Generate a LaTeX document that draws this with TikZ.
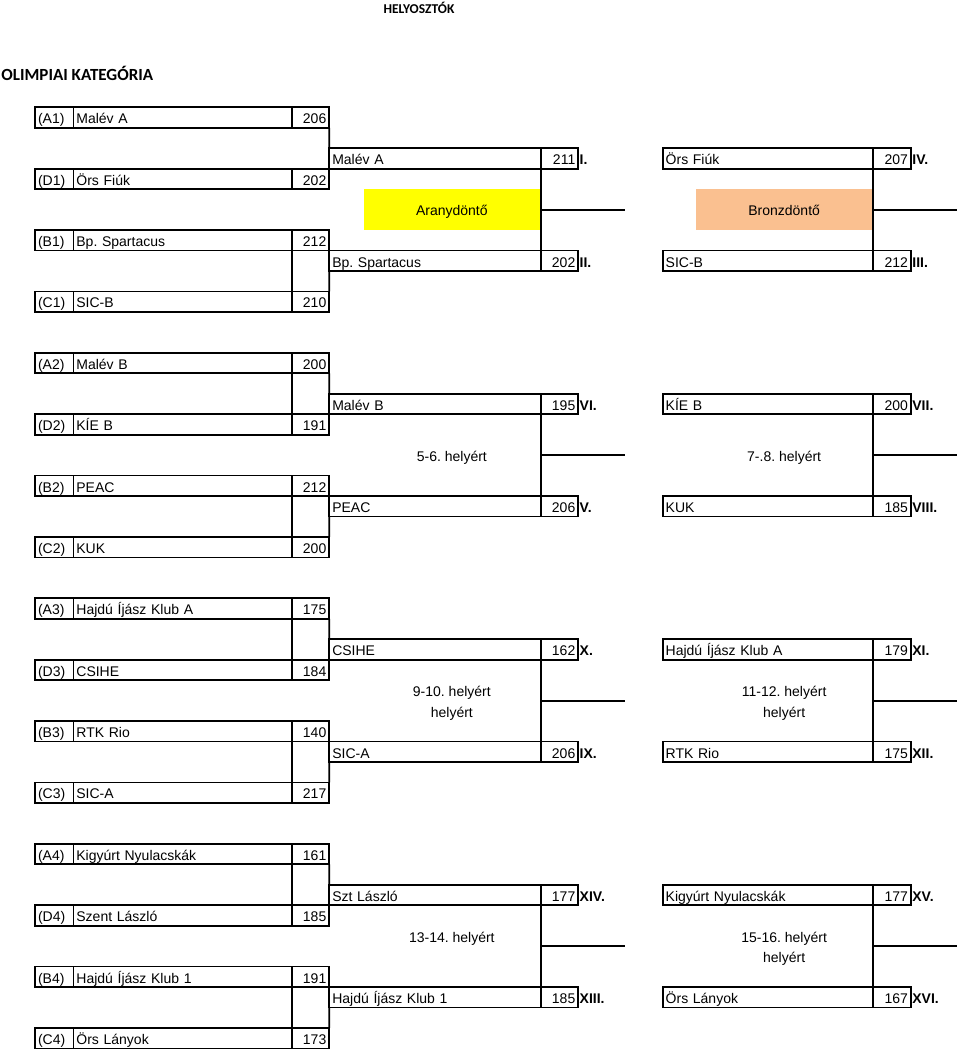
\documentclass[tikz,border=0pt]{standalone}
\usepackage{fontspec}
\setmainfont{Liberation Sans}
\newfontfamily\titlefont{Carlito}
\usetikzlibrary{positioning}
\frenchspacing

\definecolor{goldfill}{RGB}{255,255,0}
\definecolor{bronzefill}{RGB}{250,192,144}

\tikzset{
  cell/.style={draw, line width=1.8pt, outer sep=0pt, inner xsep=3pt, inner ysep=0pt,
    minimum height=20.46pt, anchor=north west, text height=12.6pt, text depth=0pt},
  seedcell/.style={cell, text width=32.4pt, align=left},
  namecell/.style={cell, text width=#1, align=left},
  ptcell/.style={cell, text width=#1, align=right},
  rank/.style={inner sep=0pt, outer sep=0pt, font=\fontsize{14}{16}\selectfont\bfseries,
    text height=12.6pt, text depth=0pt},
  note/.style={inner sep=0pt, outer sep=0pt, minimum width=176.5pt, minimum height=20.46pt,
    text height=12.6pt, text depth=0pt},
  medal/.style={note, minimum height=40.92pt},
  wire/.style={line width=1.8pt},
}

\def\rowh{20.46}

% seed row: id, y, seed, team, points
\newcommand{\seedrow}[5]{%
  \node[seedcell] (#1s) at (35,#2) {#3};
  \node[namecell=212.3pt] (#1t) at (#1s.north east) {#4};
  \node[ptcell=31.6pt] (#1p) at (#1t.north east) {#5};
}
% result row: id, x, y, name width, points width, team, points, rank
\newcommand{\finalrow}[8]{%
  \node[namecell=#4] (#1t) at (#2,#3) {#6};
  \node[ptcell=#5] (#1p) at (#1t.north east) {#7};
  \node[rank, right=1.4pt of #1p] (#1r) {#8};
}
\newcommand{\winrow}[5]{\finalrow{#1}{329.3}{#2}{205.7pt}{31.3pt}{#3}{#4}{#5}}
\newcommand{\lossrow}[5]{\finalrow{#1}{662.7}{#2}{204.6pt}{31.7pt}{#3}{#4}{#5}}

% bracket lines of one block
\newcommand{\links}[1]{%
  \draw[wire] (A#1p.south east) -- (Wu#1t.north west);
  \draw[wire] (B#1p.south west) -- (C#1p.north west);
  \draw[wire] (Wd#1t.south west) -- (C#1p.north east);
  \draw[wire] (Wu#1p.south west) -- coordinate[midway] (wm#1) (Wd#1p.north west);
  \draw[wire] (Lu#1p.south west) -- coordinate[midway] (lm#1) (Ld#1p.north west);
  \coordinate (we#1) at ([xshift=83.5pt]wm#1);
  \coordinate (le#1) at ([xshift=83.5pt]lm#1);
  \draw[wire] (wm#1) -- (we#1);
  \draw[wire] (lm#1) -- (le#1);
}

\begin{document}
\begin{tikzpicture}[x=1pt, y=-1pt, every node/.style={font=\fontsize{14}{16}\selectfont}]
  \useasboundingbox (0,0) rectangle (960,1050);

  \node[font=\titlefont\bfseries\fontsize{13.5}{16}\selectfont, inner sep=0pt,
    text height=8.7pt, text depth=0pt] (title) at (419,9.3) {HELYOSZTÓK};
  \node[font=\titlefont\bfseries\fontsize{17}{20}\selectfont, inner sep=0pt, anchor=west,
    text height=10.95pt, text depth=0pt] (category) at (1.2,75.3) {OLIMPIAI KATEGÓRIA};

  % 1-4. hely
  \def\ytop{107.3}
  \seedrow{A1}{\ytop}{(A1)}{Malév A}{206}
  \seedrow{D1}{\ytop+3*\rowh}{(D1)}{Örs Fiúk}{202}
  \seedrow{B1}{\ytop+6*\rowh}{(B1)}{Bp. Spartacus}{212}
  \seedrow{C1}{\ytop+9*\rowh}{(C1)}{SIC-B}{210}
  \winrow{Wu1}{\ytop+2*\rowh}{Malév A}{211}{I.}
  \winrow{Wd1}{\ytop+7*\rowh}{Bp. Spartacus}{202}{II.}
  \lossrow{Lu1}{\ytop+2*\rowh}{Örs Fiúk}{207}{IV.}
  \lossrow{Ld1}{\ytop+7*\rowh}{SIC-B}{212}{III.}
  \links{1}
  \node[medal, fill=goldfill, left=0.9pt of wm1] (gold) {Aranydöntő};
  \node[medal, fill=bronzefill, left=0.9pt of lm1] (bronze) {Bronzdöntő};

  % 5-8. hely
  \def\ytop{352.8}
  \seedrow{A2}{\ytop}{(A2)}{Malév B}{200}
  \seedrow{D2}{\ytop+3*\rowh}{(D2)}{KÍE B}{191}
  \seedrow{B2}{\ytop+6*\rowh}{(B2)}{PEAC}{212}
  \seedrow{C2}{\ytop+9*\rowh}{(C2)}{KUK}{200}
  \winrow{Wu2}{\ytop+2*\rowh}{Malév B}{195}{VI.}
  \winrow{Wd2}{\ytop+7*\rowh}{PEAC}{206}{V.}
  \lossrow{Lu2}{\ytop+2*\rowh}{KÍE B}{200}{VII.}
  \lossrow{Ld2}{\ytop+7*\rowh}{KUK}{185}{VIII.}
  \draw[wire] (A2p.south west) -- (D2p.north west);
  \links{2}
  \node[note, left=0.9pt of wm2] (w2a) {5-6. helyért};
  \node[note, left=0.9pt of lm2] (l2a) {7-.8. helyért};

  % 9-12. hely
  \def\ytop{598.3}
  \seedrow{A3}{\ytop}{(A3)}{Hajdú Íjász Klub A}{175}
  \seedrow{D3}{\ytop+3*\rowh}{(D3)}{CSIHE}{184}
  \seedrow{B3}{\ytop+6*\rowh}{(B3)}{RTK Rio}{140}
  \seedrow{C3}{\ytop+9*\rowh}{(C3)}{SIC-A}{217}
  \winrow{Wu3}{\ytop+2*\rowh}{CSIHE}{162}{X.}
  \winrow{Wd3}{\ytop+7*\rowh}{SIC-A}{206}{IX.}
  \lossrow{Lu3}{\ytop+2*\rowh}{Hajdú Íjász Klub A}{179}{XI.}
  \lossrow{Ld3}{\ytop+7*\rowh}{RTK Rio}{175}{XII.}
  \draw[wire] (A3p.south west) -- (D3p.north west);
  \links{3}
  \node[note, above left=0pt and 0.9pt of wm3] (w3a) {9-10. helyért};
  \node[note, below left=0pt and 0.9pt of wm3] (w3b) {helyért};
  \node[note, above left=0pt and 0.9pt of lm3] (l3a) {11-12. helyért};
  \node[note, below left=0pt and 0.9pt of lm3] (l3b) {helyért};

  % 13-16. hely
  \def\ytop{843.8}
  \seedrow{A4}{\ytop}{(A4)}{Kigyúrt Nyulacskák}{161}
  \seedrow{D4}{\ytop+3*\rowh}{(D4)}{Szent László}{185}
  \seedrow{B4}{\ytop+6*\rowh}{(B4)}{Hajdú Íjász Klub 1}{191}
  \seedrow{C4}{\ytop+9*\rowh}{(C4)}{Örs Lányok}{173}
  \winrow{Wu4}{\ytop+2*\rowh}{Szt László}{177}{XIV.}
  \winrow{Wd4}{\ytop+7*\rowh}{Hajdú Íjász Klub 1}{185}{XIII.}
  \lossrow{Lu4}{\ytop+2*\rowh}{Kigyúrt Nyulacskák}{177}{XV.}
  \lossrow{Ld4}{\ytop+7*\rowh}{Örs Lányok}{167}{XVI.}
  \draw[wire] (A4p.south west) -- (D4p.north west);
  \links{4}
  \node[note, above left=0pt and 0.9pt of wm4] (w4a) {13-14. helyért};
  \node[note, above left=0pt and 0.9pt of lm4] (l4a) {15-16. helyért};
  \node[note, below left=0pt and 0.9pt of lm4] (l4b) {helyért};
\end{tikzpicture}
\end{document}
